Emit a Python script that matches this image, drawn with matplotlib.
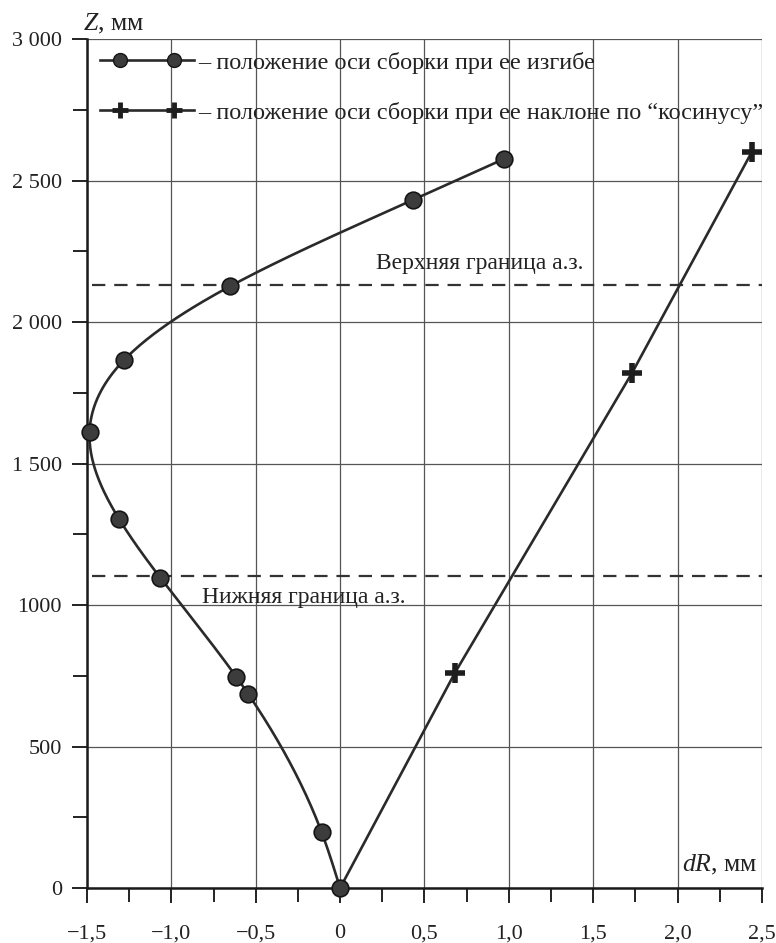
import numpy as np
import matplotlib.pyplot as plt
from matplotlib.lines import Line2D
from matplotlib.legend_handler import HandlerLine2D
from matplotlib.ticker import FixedLocator, MultipleLocator

plt.rcParams['font.family'] = ['Liberation Serif', 'DejaVu Serif']
plt.rcParams['mathtext.fontset'] = 'custom'
plt.rcParams['mathtext.rm'] = 'Liberation Serif'
plt.rcParams['mathtext.it'] = 'Liberation Serif:italic'

# положение оси сборки при изгибе
bend_dr = [0.0, -0.11, -0.545, -0.615, -1.065, -1.31, -1.485, -1.28, -0.65, 0.43, 0.97]
bend_z = [0, 198, 686, 746, 1096, 1304, 1611, 1866, 2127, 2431, 2576]

# положение оси сборки при наклоне по "косинусу"
cos_dr = [0.0, 0.68, 1.73, 2.44]
cos_z = [0, 760, 1820, 2601]

z_upper = 2130
z_lower = 1103

x_ticks = [-1.5, -1.0, -0.5, 0, 0.5, 1.0, 1.5, 2.0, 2.5]
x_labels = ["\u22121,5", "\u22121,0", "\u22120,5", "0", "0,5", "1,0", "1,5", "2,0", "2,5"]
y_ticks = [0, 500, 1000, 1500, 2000, 2500, 3000]
y_labels = ["0", "500", "1000", "1 500", "2 000", "2 500", "3 000"]


def natural_spline(t, v, tt):
    # сглаженная кривая x(z) через точки
    t = np.asarray(t, float)
    v = np.asarray(v, float)
    n = len(t)
    h = np.diff(t)
    A = np.zeros((n, n))
    r = np.zeros(n)
    A[0, 0] = A[-1, -1] = 1
    for i in range(1, n - 1):
        A[i, i - 1] = h[i - 1]
        A[i, i] = 2 * (h[i - 1] + h[i])
        A[i, i + 1] = h[i]
        r[i] = 6 * ((v[i + 1] - v[i]) / h[i] - (v[i] - v[i - 1]) / h[i - 1])
    m = np.linalg.solve(A, r)
    out = np.empty_like(tt)
    for k, x in enumerate(tt):
        i = min(max(np.searchsorted(t, x) - 1, 0), n - 2)
        a = (t[i + 1] - x) / h[i]
        b = (x - t[i]) / h[i]
        out[k] = (a * v[i] + b * v[i + 1]
                  + ((a ** 3 - a) * m[i] + (b ** 3 - b) * m[i + 1]) * h[i] ** 2 / 6)
    return out


class LongLineHandler(HandlerLine2D):
    # линия во всю ширину ключа, маркеры отступают от краёв
    def create_artists(self, legend, orig_handle, xdescent, ydescent,
                       width, height, fontsize, trans):
        mk = super().create_artists(legend, orig_handle, xdescent, ydescent,
                                    width, height, fontsize, trans)[0]
        y0 = (height - ydescent) / 2.0
        full = Line2D([-xdescent, -xdescent + width], [y0, y0],
                      color=orig_handle.get_color(), lw=orig_handle.get_linewidth())
        full.set_transform(trans)
        mk.set_linestyle('none')
        return [full, mk]


fig = plt.figure(figsize=(7.76, 9.43), dpi=100)
ax = fig.add_axes([0.1121, 0.0583, 0.8698, 0.9003])

line_c = '#2a2a2a'
txt_c = '#222222'

zz = np.linspace(bend_z[0], bend_z[-1], 400)
ax.plot(natural_spline(bend_z, bend_dr, zz), zz, color=line_c, lw=1.9, zorder=4)
ax.plot(bend_dr, bend_z, 'o', ms=12, mfc='#3c3c3c', mec='#151515', mew=1.2,
        zorder=6, clip_on=False)

ax.plot(cos_dr, cos_z, color=line_c, lw=1.9, zorder=4)
ax.plot(cos_dr[1:], cos_z[1:], '+', ms=14, mec='#1e1e1e', mew=4, zorder=5, clip_on=False)

ax.axhline(z_upper, xmin=0.008, color='#333333', lw=1.6, dashes=(6, 4), zorder=3)
ax.axhline(z_lower, xmin=0.008, color='#333333', lw=1.6, dashes=(6, 4), zorder=3)
ax.text(0.21, 2168, "Верхняя граница а.з.", fontsize=17, color=txt_c, va='bottom')
ax.text(-0.82, 1025, "Нижняя граница а.з.", fontsize=17, color=txt_c, va='center')

ax.set_xlim(-1.5, 2.5)
ax.set_ylim(0, 3000)
ax.xaxis.set_major_locator(FixedLocator(x_ticks))
ax.set_xticklabels(x_labels)
ax.yaxis.set_major_locator(FixedLocator(y_ticks))
ax.set_yticklabels(y_labels)
ax.xaxis.set_minor_locator(MultipleLocator(0.25))
ax.yaxis.set_minor_locator(MultipleLocator(250))
ax.tick_params(which='both', direction='out', length=11, width=1.4, color='#222222')
ax.tick_params(axis='x', which='major', labelsize=16, pad=15, labelcolor=txt_c)
ax.tick_params(axis='y', which='major', labelsize=16, pad=7, labelcolor=txt_c)
ax.tick_params(axis='x', which='minor', length=10)
ax.tick_params(axis='y', which='minor', length=10)

ax.grid(True, which='major', color='#555555', lw=0.9)
ax.set_axisbelow(True)
for s in ['top', 'right']:
    ax.spines[s].set_visible(False)
for s in ['left', 'bottom']:
    ax.spines[s].set_linewidth(1.8)
    ax.spines[s].set_color('#1a1a1a')

ax.text(-0.006, 1.018, "$Z$, мм", transform=ax.transAxes, fontsize=18.5,
        color=txt_c, ha='left', va='center')
ax.text(0.993, 0.027, "$dR$, мм", transform=ax.transAxes, fontsize=18.5,
        color=txt_c, ha='right', va='center')

h1 = Line2D([], [], color=line_c, lw=1.9, marker='o', ms=10, mfc='#3c3c3c', mec='#151515')
h2 = Line2D([], [], color=line_c, lw=1.9, marker='+', ms=11, mec='#1e1e1e', mew=3.5)
hmap = {Line2D: LongLineHandler(marker_pad=0.85, numpoints=2)}
ax.legend([h1, h2],
          ["\u2013 положение оси сборки при ее изгибе",
           "\u2013 положение оси сборки при ее наклоне по \u201cкосинусу\u201d"],
          loc='upper left', bbox_to_anchor=(0.0, 1.0), frameon=False,
          handler_map=hmap, handlelength=3.9, handletextpad=0.15, fontsize=17.5,
          labelspacing=1.15, borderpad=0.4, borderaxespad=0.12, labelcolor=txt_c)

fig.savefig('out.png', dpi=100)
